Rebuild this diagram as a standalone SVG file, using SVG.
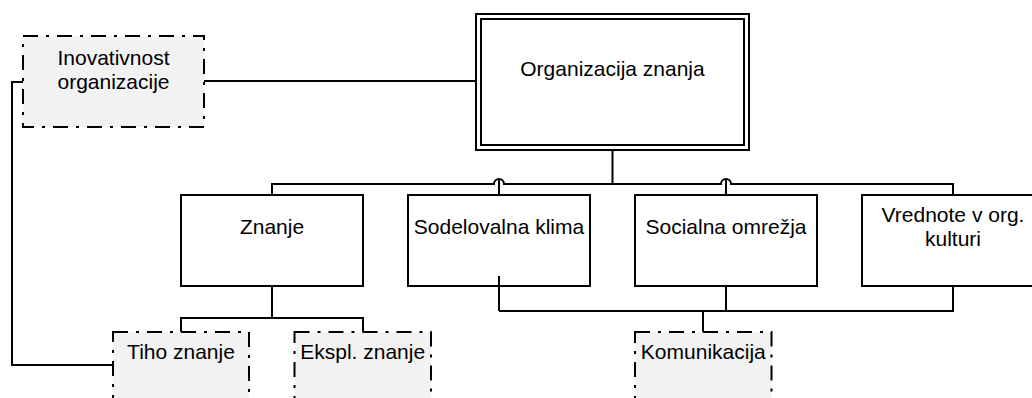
<svg xmlns="http://www.w3.org/2000/svg" width="1032" height="398" viewBox="0 0 1032 398">
  <style>
    .box { fill: #ffffff; stroke: #000000; stroke-width: 2; }
    .soft { fill: #f2f2f2; stroke: #000000; stroke-width: 2; stroke-dasharray: 15 8 3 8; }
    .wire { fill: none; stroke: #000000; stroke-width: 2; }
    text { font-family: "Liberation Sans", Arial, sans-serif; font-size: 21px; fill: #000000; text-anchor: middle; }
  </style>
  <rect width="1032" height="398" fill="#ffffff"/>

  <!-- connectors drawn first so boxes sit on top -->
  <g id="connectors">
    <path class="wire" d="M204,81 H476"/>
    <path class="wire" d="M23,82 H12 V365 H113"/>
    <path class="wire" d="M612.5,150 V184"/>
    <path class="wire" d="M272,195 V184 H494 a5,5 0 0 1 10,0 H721 a5,5 0 0 1 10,0 H953 V195"/>
    <path class="wire" d="M499,195 V179"/>
    <path class="wire" d="M726,195 V179"/>
    <path class="wire" d="M272,286 V318"/>
    <path class="wire" d="M181,332 V318 H363 V332"/>
    <path class="wire" d="M726,286 V311"/>
    <path class="wire" d="M953,286 V311 H499"/>
    <path class="wire" d="M703,311 V332"/>
  </g>

  <g id="inovativnost">
    <rect class="soft" x="23" y="36" width="181" height="91"/>
    <text x="113.5" y="65">Inovativnost</text>
    <text x="113.5" y="89">organizacije</text>
  </g>

  <g id="organizacija">
    <rect class="box" x="476" y="14" width="273" height="136"/>
    <rect class="box" x="481" y="19" width="263" height="126"/>
    <text x="612.5" y="76">Organizacija znanja</text>
  </g>

  <g id="znanje">
    <rect class="box" x="181" y="195" width="182" height="91"/>
    <text x="272" y="234">Znanje</text>
  </g>

  <g id="sodelovalna">
    <rect class="box" x="408" y="195" width="182" height="91"/>
    <text x="499" y="234">Sodelovalna klima</text>
    <!-- connector leaves from inside the box and drops to the lower bus -->
    <path class="wire" d="M499,276 V311"/>
  </g>

  <g id="socialna">
    <rect class="box" x="635" y="195" width="182" height="91"/>
    <text x="726" y="234">Socialna omrežja</text>
  </g>

  <g id="vrednote">
    <rect class="box" x="862" y="195" width="182" height="91"/>
    <text x="953" y="222">Vrednote v org.</text>
    <text x="953" y="246">kulturi</text>
  </g>

  <g id="tiho">
    <rect class="soft" x="113" y="332" width="136" height="90"/>
    <text x="181" y="359">Tiho znanje</text>
  </g>

  <g id="ekspl">
    <rect class="soft" x="294.5" y="332" width="136.5" height="90"/>
    <text x="362.7" y="359">Ekspl. znanje</text>
  </g>

  <g id="komunikacija">
    <rect class="soft" x="635" y="332" width="136.5" height="90"/>
    <text x="703.3" y="359">Komunikacija</text>
  </g>
</svg>
